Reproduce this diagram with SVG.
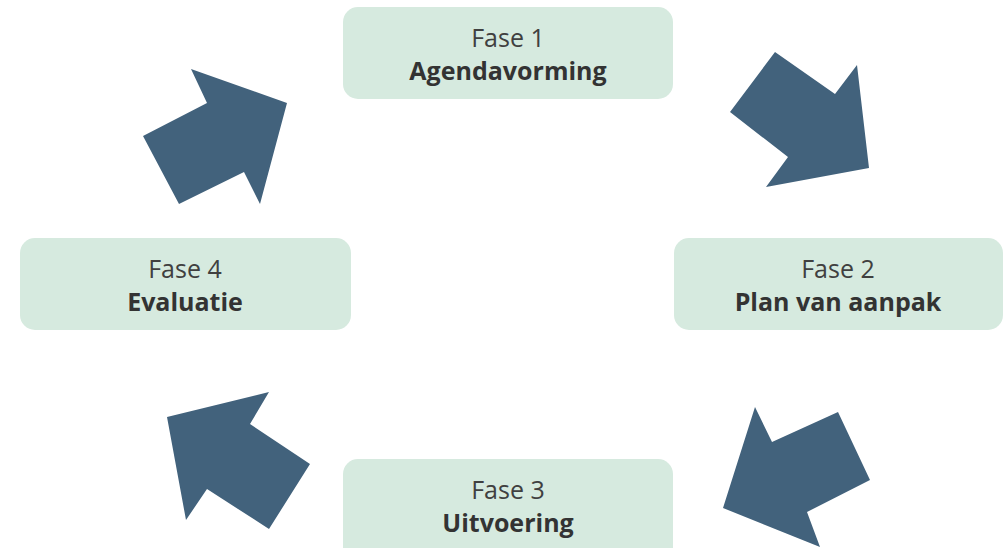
<svg xmlns="http://www.w3.org/2000/svg" width="1005" height="548" viewBox="0 0 1005 548">
<style>
.box{fill:#d6eadf}
.t1{font-family:"Open Sans","Liberation Sans",sans-serif;font-size:25px;fill:#404040;text-anchor:middle}
.t2{font-family:"Open Sans","Liberation Sans",sans-serif;font-size:25px;font-weight:bold;fill:#333333;text-anchor:middle}
.arr{fill:#42627c}
</style>
<rect width="1005" height="548" fill="#ffffff"/>
<g id="connectors">
<polygon class="arr" points="775,52 835,94 857,65 869,168 766,187 788,157 730,112"/>
<polygon class="arr" points="755,407 772,442 838,412 870,480 807,512 820,547 723,508"/>
<polygon class="arr" points="167,417 269,392 250,424 310,464 269,529 207,489 186,520"/>
<polygon class="arr" points="191,69 287,103 260,204 244,172 179,204 143,136 207,103"/>
</g>
<g id="fase1">
<rect class="box" x="343" y="7" width="330" height="92" rx="15"/>
<text class="t1" x="508" y="47">Fase 1</text>
<text class="t2" x="508" y="80">Agendavorming</text>
</g>
<g id="fase2">
<rect class="box" x="674" y="238" width="329" height="92" rx="15"/>
<text class="t1" x="838" y="278">Fase 2</text>
<text class="t2" x="838" y="311">Plan van aanpak</text>
</g>
<g id="fase3">
<rect class="box" x="343" y="459" width="330" height="105" rx="15"/>
<text class="t1" x="508" y="499">Fase 3</text>
<text class="t2" x="508" y="532">Uitvoering</text>
</g>
<g id="fase4">
<rect class="box" x="20" y="238" width="331" height="92" rx="15"/>
<text class="t1" x="185" y="278">Fase 4</text>
<text class="t2" x="185" y="311">Evaluatie</text>
</g>
</svg>
